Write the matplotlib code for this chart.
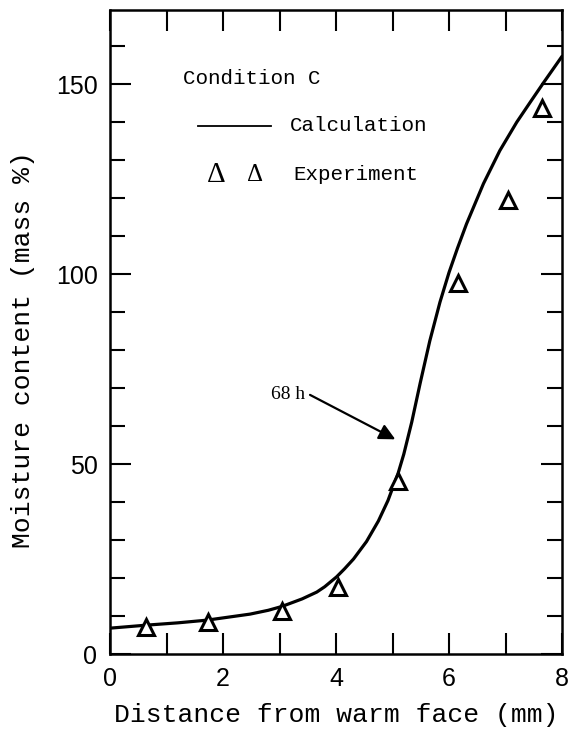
import numpy as np
import matplotlib
matplotlib.use("Agg")
import matplotlib.pyplot as plt
from matplotlib.ticker import MultipleLocator

# calculated moisture profile at 68 h
calc_x = [0.0, 0.65, 1.2, 1.71, 2.0, 2.48, 2.8, 3.04, 3.4, 3.66, 3.8, 4.01,
          4.15, 4.31, 4.54, 4.75, 4.92, 5.10, 5.20, 5.34, 5.49, 5.66, 5.84,
          6.00, 6.15, 6.31, 6.61, 6.90, 7.20, 7.45, 7.67, 8.0]
calc_y = [6.8, 7.6, 8.2, 8.9, 9.5, 10.5, 11.5, 12.5, 14.5, 16.3, 17.7, 20.3,
          22.4, 25.0, 29.6, 35.0, 40.4, 47.6, 52.6, 61.0, 71.3, 82.4, 92.6,
          100.4, 106.8, 113.2, 123.8, 132.5, 140.0, 145.5, 150.3, 157.3]

# experimental points
exp_x = [0.63, 1.74, 3.04, 4.03, 5.09, 6.16, 7.05, 7.65]
exp_y = [7.0, 8.4, 11.3, 17.7, 45.5, 97.7, 119.5, 143.7]

xticks = [0, 2, 4, 6, 8]
yticks = [0, 50, 100, 150]

label_68h = "68 h"
arrow_start = (3.54, 68.2)
arrow_tip = (5.05, 56.5)

MONO = "Liberation Mono"

fig = plt.figure(figsize=(5.74, 7.29), dpi=100)
ax = fig.add_axes([110 / 574, 75 / 729, 452 / 574, 644 / 729])

ax.plot(calc_x, calc_y, color="black", lw=2.3, solid_joinstyle="round",
        solid_capstyle="round")
ax.plot(exp_x, exp_y, linestyle="none", marker="^", ms=12, mfc="white",
        mec="black", mew=2.2)

ax.set_xlim(0, 8)
ax.set_ylim(0, 169.5)

ax.set_xticks(xticks)
ax.xaxis.set_minor_locator(MultipleLocator(1))
ax.set_yticks(yticks)
ax.yaxis.set_minor_locator(MultipleLocator(10))

ax.tick_params(which="both", direction="in", top=True, right=True, width=1.5)
ax.tick_params(axis="x", which="both", length=15, pad=9)
ax.tick_params(axis="y", which="major", length=15, pad=9)
ax.tick_params(axis="y", which="minor", length=11)
for lab in ax.get_xticklabels() + ax.get_yticklabels():
    lab.set_fontfamily("Liberation Sans")
    lab.set_fontsize(18)

for sp in ax.spines.values():
    sp.set_linewidth(1.8)

ax.set_xlabel("Distance from warm face (mm)", fontfamily=MONO, fontsize=19)
ax.xaxis.set_label_coords(0.5, -0.076)
ax.set_ylabel("Moisture content (mass %)", fontfamily=MONO, fontsize=19)
ax.yaxis.label.set_va("center")
ax.yaxis.set_label_coords(-0.1925, 0.472)

# hand-made legend
ax.text(0.1615, 0.893, "Condition C", transform=ax.transAxes,
        fontfamily=MONO, fontsize=15, va="center")
ax.plot([0.1947, 0.3562], [0.8203, 0.8203], transform=ax.transAxes,
        color="black", lw=1.3, clip_on=False)
ax.text(0.398, 0.8203, "Calculation", transform=ax.transAxes,
        fontfamily=MONO, fontsize=15, va="center")
ax.text(0.2345, 0.7438, "Δ", transform=ax.transAxes,
        fontfamily="Liberation Serif", fontsize=21, ha="center", va="center")
ax.text(0.32, 0.7438, "Δ", transform=ax.transAxes,
        fontfamily="Liberation Serif", fontsize=18, ha="center", va="center")
ax.text(0.405, 0.7438, "Experiment", transform=ax.transAxes,
        fontfamily=MONO, fontsize=15, va="center")

ax.text(arrow_start[0] - 0.08, arrow_start[1], label_68h, ha="right", va="center",
        fontfamily="Liberation Serif", fontsize=14)
ax.annotate("", xy=arrow_tip, xytext=arrow_start,
            arrowprops=dict(arrowstyle="-|>", color="black", lw=1.6,
                            mutation_scale=24, shrinkA=0, shrinkB=0))

fig.savefig("out.png", dpi=100)
